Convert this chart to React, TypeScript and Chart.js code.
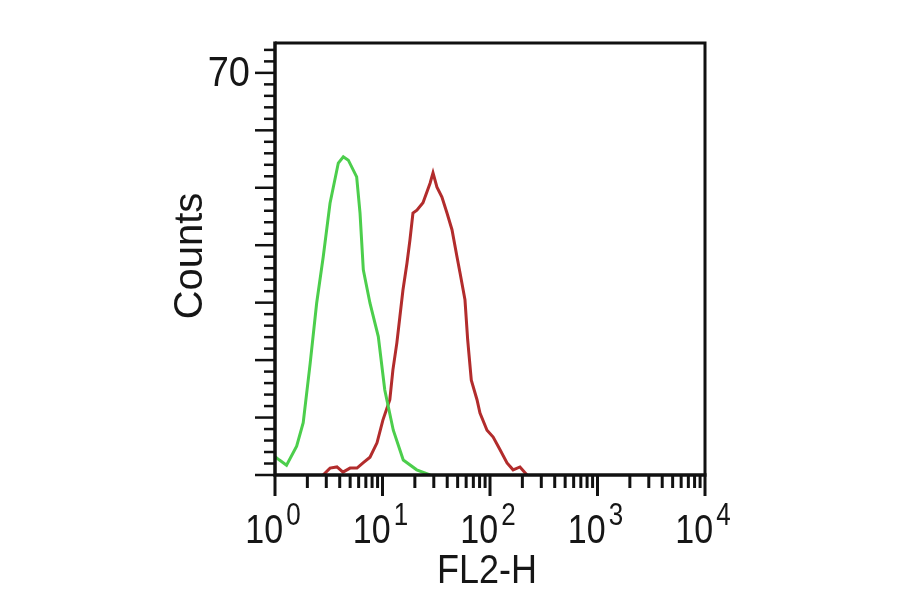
import React, { useEffect, useRef } from "react";
import { Chart, registerables } from "chart.js";

Chart.register(...registerables);

// Isotype control (green) histogram: FL2-H value and counts
const isotypeX = [1.0, 1.1, 1.28, 1.59, 1.83, 2.12, 2.44, 2.81, 3.25, 3.88, 4.32, 4.81, 5.75, 6.18, 6.63, 7.65, 9.14, 10.5, 12.6, 15.6, 20.8, 27.7];
const isotypeCounts = [3.2, 2.6, 1.7, 5.0, 9.1, 19.3, 29.9, 38.0, 47.3, 54.3, 55.4, 54.8, 51.9, 45.6, 35.7, 29.9, 24.1, 14.8, 7.8, 2.6, 0.9, 0];

// Stained sample (red) histogram
const stainedX = [2.8, 3.25, 3.77, 4.29, 4.99, 5.79, 6.59, 7.65, 8.89, 10.1, 11.7, 12.5, 13.6, 14.5, 15.5, 16.9, 18.0, 19.2, 20.9, 23.8, 27.7, 29.5, 32.1, 35.7, 39.8, 44.3, 49.3, 52.6, 58.5, 62, 67, 75.7, 80.7, 93.8, 107, 124, 144, 164, 190, 221];
const stainedCounts = [0, 1.2, 1.4, 0.5, 1.2, 1.2, 2.1, 3.1, 5.6, 9.6, 13.1, 18.3, 23.0, 27.5, 32.2, 36.9, 40.9, 45.6, 46.1, 47.4, 50.8, 52.6, 50.1, 48.4, 45.6, 42.7, 38.0, 35.2, 30.5, 23.5, 16.5, 13.1, 10.8, 7.8, 6.6, 4.4, 2.1, 0.9, 1.4, 0];

// Axis labels
const yTickLabels = [70];
const xDecadeExponents = [0, 1, 2, 3, 4];
const xTitle = "FL2-H";
const yTitle = "Counts";

const Y_MAX = 75.2;

function stretchedText(ctx: CanvasRenderingContext2D, text: string, x: number, y: number, font: string, align: CanvasTextAlign, sy: number) {
  ctx.save();
  ctx.translate(x, y);
  ctx.scale(1, sy);
  ctx.font = font;
  ctx.textAlign = align;
  ctx.textBaseline = "alphabetic";
  ctx.fillText(text, 0, 0);
  ctx.restore();
}

const axesPlugin = {
  id: "flowAxes",
  afterDraw(chart: any) {
    const ctx: CanvasRenderingContext2D = chart.ctx;
    const xs = chart.scales.x;
    const ys = chart.scales.y;
    const { left, right, top, bottom } = chart.chartArea;
    ctx.save();
    ctx.strokeStyle = "#111";
    ctx.fillStyle = "#161616";
    ctx.lineCap = "butt";

    // frame
    ctx.lineWidth = 3;
    ctx.beginPath();
    ctx.moveTo(left, top);
    ctx.lineTo(right, top);
    ctx.lineTo(right, bottom);
    ctx.stroke();
    ctx.lineWidth = 3.5;
    ctx.beginPath();
    ctx.moveTo(left, top - 1.5);
    ctx.lineTo(left, bottom);
    ctx.lineTo(right + 1.5, bottom);
    ctx.stroke();

    // y ticks
    ctx.lineWidth = 2.5;
    for (let v = 0; v <= 74; v += 2) {
      const py = ys.getPixelForValue(v);
      const len = v % 10 === 0 ? 20 : 11;
      ctx.beginPath();
      ctx.moveTo(left - len, py);
      ctx.lineTo(left, py);
      ctx.stroke();
    }

    // x ticks (log)
    ctx.lineWidth = 3;
    for (let d = 0; d < 4; d++) {
      for (let m = 1; m <= 9; m++) {
        const v = m * Math.pow(10, d);
        const px = xs.getPixelForValue(v);
        const len = m === 1 ? 21 : 13;
        ctx.beginPath();
        ctx.moveTo(px, bottom);
        ctx.lineTo(px, bottom + len);
        ctx.stroke();
      }
    }
    {
      const px = xs.getPixelForValue(10000);
      ctx.beginPath();
      ctx.moveTo(px, bottom);
      ctx.lineTo(px, bottom + 21);
      ctx.stroke();
    }

    const family = "'Liberation Sans', Arial, sans-serif";

    // x tick labels 10^n
    for (const e of xDecadeExponents) {
      const px = xs.getPixelForValue(Math.pow(10, e));
      ctx.font = `34px ${family}`;
      const wBase = ctx.measureText("10").width;
      ctx.font = `26px ${family}`;
      const wExp = ctx.measureText(String(e)).width;
      const gap = 3;
      const start = px - (wBase + gap + wExp) / 2 - 2;
      stretchedText(ctx, "10", start, 543, `34px ${family}`, "left", 1.2);
      stretchedText(ctx, String(e), start + wBase + gap, 525, `26px ${family}`, "left", 1.2);
    }

    // y tick labels
    for (const v of yTickLabels) {
      const py = ys.getPixelForValue(v);
      stretchedText(ctx, String(v), 250, py + 13, `38px ${family}`, "right", 1.12);
    }

    // axis titles
    stretchedText(ctx, xTitle, 487, 583, `36px ${family}`, "center", 1.12);
    ctx.save();
    ctx.translate(202, 256);
    ctx.rotate(-Math.PI / 2);
    ctx.font = `40px ${family}`;
    ctx.textAlign = "center";
    ctx.textBaseline = "alphabetic";
    ctx.fillText(yTitle, 0, 0);
    ctx.restore();

    ctx.restore();
  },
};

export default function App() {
  const canvasRef = useRef<HTMLCanvasElement | null>(null);

  useEffect(() => {
    const canvas = canvasRef.current;
    if (!canvas) return;
    const chart = new Chart(canvas, {
      type: "scatter",
      data: {
        datasets: [
          {
            label: "Isotype",
            data: isotypeX.map((x, i) => ({ x, y: isotypeCounts[i] })),
            showLine: true,
            borderColor: "#4cce4c",
            backgroundColor: "#4cce4c",
            borderWidth: 3,
            pointRadius: 0,
            tension: 0,
          },
          {
            label: "Stained",
            data: stainedX.map((x, i) => ({ x, y: stainedCounts[i] })),
            showLine: true,
            borderColor: "#b22c2c",
            backgroundColor: "#b22c2c",
            borderWidth: 3,
            pointRadius: 0,
            tension: 0,
          },
        ],
      },
      options: {
        responsive: false,
        animation: false,
        devicePixelRatio: 1,
        layout: { padding: { left: 275, right: 195, top: 43, bottom: 119 } },
        plugins: { legend: { display: false }, tooltip: { enabled: false } },
        scales: {
          x: { type: "logarithmic", min: 1, max: 10000, display: false },
          y: { type: "linear", min: 0, max: Y_MAX, display: false },
        },
      },
      plugins: [axesPlugin],
    });
    return () => chart.destroy();
  }, []);

  return (
    <div style={{ position: "fixed", left: 0, top: 0, width: 900, height: 594, background: "#fff" }}>
      <canvas ref={canvasRef} width={900} height={594} style={{ width: 900, height: 594, display: "block" }} />
    </div>
  );
}
